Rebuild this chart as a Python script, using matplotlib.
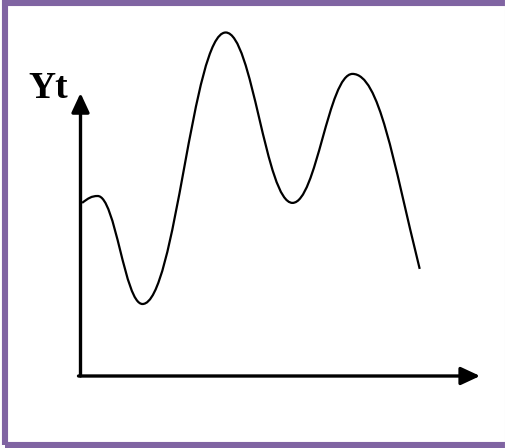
import matplotlib.pyplot as plt
from matplotlib.path import Path
from matplotlib.patches import PathPatch, Rectangle
from matplotlib.lines import Line2D

# turning points of the series (time, Yt) and the slope of the curve there
t_key = [0.04, 0.43, 1.55, 3.63, 5.30, 6.80, 8.48]
y_key = [5.77, 6.00, 2.40, 11.45, 5.77, 10.07, 3.57]
slope_key = [1.0, 0.0, 0.0, 0.0, 0.0, 0.0, -5.4]

axis_label = "Yt"
frame_color = "#8064a2"


def smooth_path(xs, ys, slopes, h=0.4):
    # cubic bezier pieces between neighbouring points
    verts = [(xs[0], ys[0])]
    codes = [Path.MOVETO]
    for i in range(len(xs) - 1):
        dx = xs[i + 1] - xs[i]
        c1 = (xs[i] + h * dx, ys[i] + h * dx * slopes[i])
        c2 = (xs[i + 1] - h * dx, ys[i + 1] - h * dx * slopes[i + 1])
        verts += [c1, c2, (xs[i + 1], ys[i + 1])]
        codes += [Path.CURVE4] * 3
    return Path(verts, codes)


W, H = 506, 448
fig = plt.figure(figsize=(W / 100, H / 100), dpi=100)
fig.patch.set_facecolor("white")

# purple frame
fig.patches.append(Rectangle((4.5 / W, 3 / H), (W + 10) / W, (H - 6) / H,
                             transform=fig.transFigure, fill=False,
                             edgecolor=frame_color, linewidth=4.4))
fig.lines.append(Line2D([505 / W, 505 / W], [0, 1], transform=fig.transFigure,
                        color="#dddddd", linewidth=0.8))

ax = fig.add_axes([80.5 / W, (H - 376) / H, 400 / W, 360 / H])
ax.set_xlim(0, 10)
ax.set_ylim(0, 12)
ax.axis("off")

arrow = dict(arrowstyle="-|>,head_length=0.58,head_width=0.27",
             mutation_scale=20, color="black", linewidth=2.4,
             shrinkA=0, shrinkB=0)
ax.annotate("", xy=(0.0, 0.786), xytext=(0.0, 0.0),
            xycoords="axes fraction", arrowprops=arrow)
ax.annotate("", xy=(0.999, 0.0), xytext=(-0.005, 0.0),
            xycoords="axes fraction", arrowprops=arrow)

curve = PathPatch(smooth_path(t_key, y_key, slope_key), fill=False,
                  edgecolor="black", linewidth=1.6, clip_on=False)
ax.add_patch(curve)

fig.text(28 / W, 1 - 97.7 / H, axis_label, ha="left", va="baseline",
         fontsize=27, fontweight="bold", family="Liberation Serif")

plt.savefig("out.png", dpi=100)
